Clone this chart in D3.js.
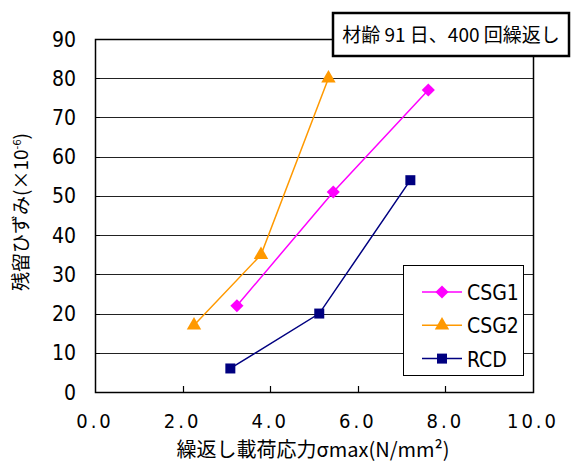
<!DOCTYPE html>
<html><head><meta charset="utf-8">
<script src="https://cdn.jsdelivr.net/npm/d3@7"></script>
<style>
body{margin:0;background:#fff;}
text{font-family:"DejaVu Sans Condensed","Liberation Sans Narrow","Noto Sans CJK JP",sans-serif;font-stretch:condensed;}
.jp{font-family:"Noto Sans CJK JP",sans-serif;font-stretch:normal;}
</style></head><body>
<svg id="c" width="571" height="463"></svg>
<script>
const xTicks = [0, 2, 4, 6, 8, 10];
const yTicks = [0, 10, 20, 30, 40, 50, 60, 70, 80, 90];
const seriesNames = ["CSG1", "CSG2", "RCD"];
const csg1X = [3.24, 5.44, 7.61];
const csg1Y = [22, 51, 77];
const csg2X = [2.26, 3.79, 5.33];
const csg2Y = [17, 35, 80];
const rcdX = [3.09, 5.12, 7.2];
const rcdY = [6, 20, 54];
const titleText = "材齢 91 日、400 回繰返し";
const xTitle = "繰返し載荷応力σmax(N/mm²)";

const colors = {CSG1:"#FF00FF", CSG2:"#FF9900", RCD:"#000080"};
const shapes = {CSG1:d3.symbolDiamond2, CSG2:d3.symbolTriangle, RCD:d3.symbolSquare};
const series = [
  {name:"CSG1", xs:csg1X, ys:csg1Y},
  {name:"CSG2", xs:csg2X, ys:csg2Y},
  {name:"RCD", xs:rcdX, ys:rcdY}
];

const svg = d3.select("#c");
const L = 95, R = 533, T = 39, B = 392;
const x = d3.scaleLinear().domain([0,10]).range([L,R]);
const y = d3.scaleLinear().domain([0,90]).range([B,T]);

// gridlines
svg.append("g").selectAll("line").data(yTicks.filter(d=>d>0)).join("line")
  .attr("x1",L).attr("x2",R).attr("y1",d=>Math.round(y(d))+0.5).attr("y2",d=>Math.round(y(d))+0.5)
  .attr("stroke","#222").attr("stroke-width",1.2);
// frame
svg.append("rect").attr("x",L+0.5).attr("y",Math.round(T)+0.5).attr("width",R-L).attr("height",B-Math.round(T))
  .attr("fill","none").attr("stroke","#000").attr("stroke-width",1.5);
// x ticks (inward)
svg.append("g").selectAll("line").data(xTicks.slice(1,-1)).join("line")
  .attr("x1",d=>Math.round(x(d))+0.5).attr("x2",d=>Math.round(x(d))+0.5).attr("y1",B).attr("y2",B-6)
  .attr("stroke","#000").attr("stroke-width",1.2);
// y ticks
svg.append("g").selectAll("line").data(yTicks).join("line")
  .attr("x1",L-0).attr("x2",L+5).attr("y1",d=>Math.round(y(d))+0.5).attr("y2",d=>Math.round(y(d))+0.5)
  .attr("stroke","#000");

// tick labels
svg.append("g").selectAll("text").data(yTicks).join("text")
  .attr("x",76).attr("y",d=>y(d)+7.5).attr("text-anchor","end")
  .attr("font-size",21).attr("fill","#000").text(d=>d);
svg.append("g").selectAll("text").data(xTicks).join("text")
  .attr("x",d=>x(d)).attr("y",428).attr("text-anchor","middle")
  .attr("font-size",20).attr("letter-spacing","3px").attr("font-family","'Liberation Mono','DejaVu Sans Mono',monospace")
  .text(d=>d3.format(".1f")(d));

// axis titles
svg.append("text").attr("class","jp").attr("x",313).attr("y",457).attr("text-anchor","middle")
  .attr("font-size",20).text(xTitle);
const yt = svg.append("text").attr("class","jp").attr("transform","translate(28,212) rotate(-90)")
  .attr("text-anchor","middle").attr("font-size",19);
yt.append("tspan").text("残留ひずみ(×10");
yt.append("tspan").attr("dy",-7).attr("font-size",11).text("-6");
yt.append("tspan").attr("dy",7).text(")");

// series
const line = d3.line().x(d=>x(d[0])).y(d=>y(d[1]));
series.forEach(s=>{
  const pts = s.xs.map((v,i)=>[v,s.ys[i]]);
  svg.append("path").datum(pts).attr("d",line).attr("fill","none")
    .attr("stroke",colors[s.name]).attr("stroke-width",1.5);
  svg.append("g").selectAll("path").data(pts).join("path")
    .attr("transform",d=>`translate(${x(d[0])},${y(d[1])})`)
    .attr("d",d3.symbol().type(shapes[s.name]).size(s.name==="RCD"?100:(s.name==="CSG2"?90:110)))
    .attr("fill",colors[s.name]);
});

// legend
svg.append("rect").attr("x",403.5).attr("y",265.5).attr("width",120).attr("height",110)
  .attr("fill","#fff").attr("stroke","#000").attr("stroke-width",1);
const lg = svg.append("g").selectAll("g").data(seriesNames).join("g")
  .attr("transform",(d,i)=>`translate(0,${292+i*33.3})`);
lg.append("line").attr("x1",422).attr("x2",462).attr("stroke",d=>colors[d]).attr("stroke-width",1.5);
lg.append("path").attr("transform","translate(442,0)")
  .attr("d",d=>d3.symbol().type(shapes[d]).size(d==="RCD"?100:(d==="CSG2"?90:110))())
  .attr("fill",d=>colors[d]);
lg.append("text").attr("x",467).attr("y",8).attr("font-size",21).text(d=>d);

// title box
svg.append("rect").attr("x",333).attr("y",13).attr("width",236).attr("height",43)
  .attr("fill","#fff").attr("stroke","#000").attr("stroke-width",2.5);
svg.append("text").attr("class","jp").attr("x",451).attr("y",42).attr("text-anchor","middle")
  .attr("font-size",19).text(titleText);
</script></body></html>
